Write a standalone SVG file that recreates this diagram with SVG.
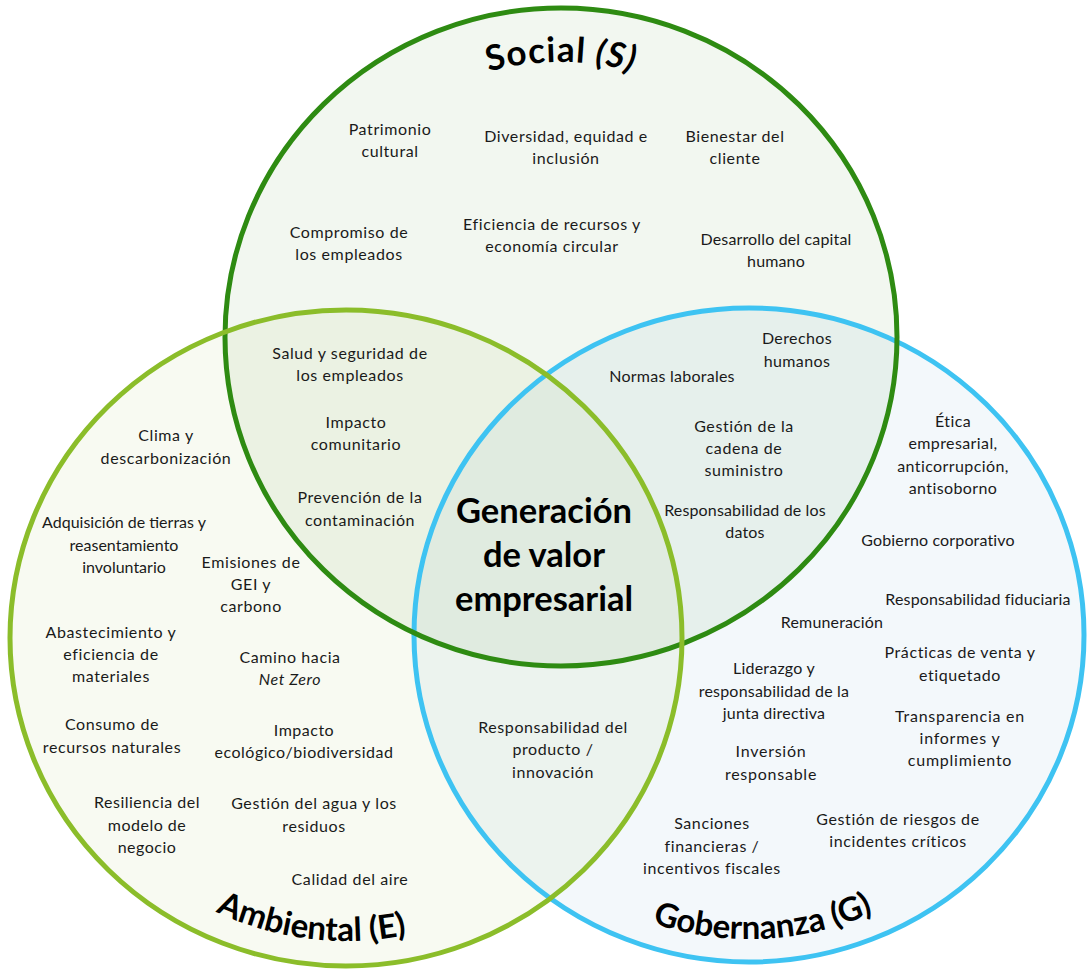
<svg xmlns="http://www.w3.org/2000/svg" width="1089" height="973" viewBox="0 0 1089 973">
<style>
.t{font-family:Lato,"Open Sans","Liberation Sans",sans-serif;font-size:16px;fill:#1a1a1a;text-anchor:middle}
.w{letter-spacing:0.6px}
.n{letter-spacing:0.15px}
.hd{font-family:Lato,"Open Sans","Liberation Sans",sans-serif;font-weight:bold;fill:#000}
.ring{fill:none;stroke-width:5}
</style>
<defs>
<path id="arcS" d="M 384.2 126.3 A 275 275 0 0 1 737.8 126.3"/>
<path id="arcE" d="M 83.6 789.5 A 303 303 0 0 0 608.4 789.5"/>
<path id="arcG" d="M 485.7 787 A 304 304 0 0 0 1012.3 787"/>
</defs>
<rect width="1089" height="973" fill="#fff"/>
<g id="fills">
<ellipse cx="561" cy="337" rx="336" ry="329" fill="#267A05" fill-opacity="0.06"/>
<ellipse cx="346" cy="638" rx="336" ry="328" fill="#8AAC26" fill-opacity="0.06"/>
<ellipse cx="749" cy="635" rx="335" ry="327" fill="#378ABC" fill-opacity="0.06"/>
</g>
<g id="circle-G"><ellipse class="ring" cx="749" cy="635" rx="335" ry="327" stroke="#3EC3F2"/></g>
<g id="circle-S"><ellipse class="ring" cx="561" cy="337" rx="336" ry="329" stroke="#2E8B12"/></g>
<g id="circle-E"><ellipse class="ring" cx="346" cy="638" rx="336" ry="328" stroke="#8BBD2A"/></g>
<g id="titles">
<text class="hd" font-size="35" letter-spacing="1"><textPath href="#arcS" startOffset="50%" text-anchor="middle">Social <tspan font-style="italic">(S)</tspan></textPath></text>
<text class="hd" font-size="33"><textPath href="#arcE" startOffset="44.2%" text-anchor="middle">Ambiental (E)</textPath></text>
<text class="hd" font-size="33"><textPath href="#arcG" startOffset="52.3%" text-anchor="middle">Gobernanza (G)</textPath></text>
</g>
<g id="center">
<text class="hd" font-size="34.5" text-anchor="middle"><tspan x="544" y="523">Generación</tspan><tspan x="544" y="567">de valor</tspan><tspan x="544" y="611">empresarial</tspan></text>
</g>
<g id="social">
<text id="s1" class="t w"><tspan x="390" y="135">Patrimonio</tspan><tspan x="390" y="157">cultural</tspan></text>
<text id="s2" class="t w"><tspan x="566" y="142">Diversidad, equidad e</tspan><tspan x="566" y="164">inclusión</tspan></text>
<text id="s3" class="t w"><tspan x="735" y="142">Bienestar del</tspan><tspan x="735" y="164">cliente</tspan></text>
<text id="s4" class="t w"><tspan x="349" y="238">Compromiso de</tspan><tspan x="349" y="260">los empleados</tspan></text>
<text id="s5" class="t w"><tspan x="552" y="230">Eficiencia de recursos y</tspan><tspan x="552" y="252">economía circular</tspan></text>
<text id="s6" class="t n"><tspan x="776" y="245">Desarrollo del capital</tspan><tspan x="776" y="267">humano</tspan></text>
</g>
<g id="social-ambiental">
<text id="se1" class="t w"><tspan x="350" y="359">Salud y seguridad de</tspan><tspan x="350" y="381">los empleados</tspan></text>
<text id="se2" class="t w"><tspan x="356" y="428">Impacto</tspan><tspan x="356" y="450">comunitario</tspan></text>
<text id="se3" class="t w"><tspan x="360" y="503">Prevención de la</tspan><tspan x="360" y="526">contaminación</tspan></text>
</g>
<g id="social-gobernanza">
<text id="sg1" class="t" letter-spacing="0.4"><tspan x="797" y="344">Derechos</tspan><tspan x="797" y="367">humanos</tspan></text>
<text id="sg2" class="t" letter-spacing="0.25"><tspan x="672" y="382">Normas laborales</tspan></text>
<text id="sg3" class="t w"><tspan x="744" y="432">Gestión de la</tspan><tspan x="744" y="454">cadena de</tspan><tspan x="744" y="476">suministro</tspan></text>
<text id="sg4" class="t n"><tspan x="745" y="516">Responsabilidad de los</tspan><tspan x="745" y="538">datos</tspan></text>
</g>
<g id="ambiental">
<text id="e1" class="t w"><tspan x="166" y="441">Clima y</tspan><tspan x="166" y="464">descarbonización</tspan></text>
<text id="e2" class="t"><tspan x="124" y="528">Adquisición de tierras y</tspan><tspan x="124" y="551">reasentamiento</tspan><tspan x="124" y="573">involuntario</tspan></text>
<text id="e3" class="t w"><tspan x="251" y="568">Emisiones de</tspan><tspan x="251" y="590">GEI y</tspan><tspan x="251" y="612">carbono</tspan></text>
<text id="e4" class="t w"><tspan x="111" y="638">Abastecimiento y</tspan><tspan x="111" y="660">eficiencia de</tspan><tspan x="111" y="682">materiales</tspan></text>
<text id="e5" class="t w"><tspan x="290" y="663">Camino hacia</tspan><tspan x="290" y="685" font-style="italic">Net Zero</tspan></text>
<text id="e6" class="t w"><tspan x="112" y="730">Consumo de</tspan><tspan x="112" y="753">recursos naturales</tspan></text>
<text id="e7" class="t" letter-spacing="0.5"><tspan x="304" y="736">Impacto</tspan><tspan x="304" y="758">ecológico/biodiversidad</tspan></text>
<text id="e8" class="t" letter-spacing="0.5"><tspan x="147" y="808">Resiliencia del</tspan><tspan x="147" y="831">modelo de</tspan><tspan x="147" y="853">negocio</tspan></text>
<text id="e9" class="t w"><tspan x="314" y="809">Gestión del agua y los</tspan><tspan x="314" y="832">residuos</tspan></text>
<text id="e10" class="t w"><tspan x="350" y="885">Calidad del aire</tspan></text>
</g>
<g id="ambiental-gobernanza">
<text id="eg1" class="t w"><tspan x="553" y="733">Responsabilidad del</tspan><tspan x="553" y="755">producto /</tspan><tspan x="553" y="778">innovación</tspan></text>
</g>
<g id="gobernanza">
<text id="g1" class="t" letter-spacing="0.4"><tspan x="953" y="427">Ética</tspan><tspan x="953" y="449">empresarial,</tspan><tspan x="953" y="472">anticorrupción,</tspan><tspan x="953" y="494">antisoborno</tspan></text>
<text id="g2" class="t n"><tspan x="938" y="546">Gobierno corporativo</tspan></text>
<text id="g3" class="t n"><tspan x="978" y="605">Responsabilidad fiduciaria</tspan></text>
<text id="g4" class="t n"><tspan x="832" y="628">Remuneración</tspan></text>
<text id="g5" class="t w"><tspan x="960" y="658">Prácticas de venta y</tspan><tspan x="960" y="681">etiquetado</tspan></text>
<text id="g6" class="t" letter-spacing="0.2"><tspan x="774" y="674">Liderazgo y</tspan><tspan x="774" y="697">responsabilidad de la</tspan><tspan x="774" y="719">junta directiva</tspan></text>
<text id="g7" class="t" letter-spacing="0.75"><tspan x="960" y="722">Transparencia en</tspan><tspan x="960" y="744">informes y</tspan><tspan x="960" y="766">cumplimiento</tspan></text>
<text id="g8" class="t" letter-spacing="0.75"><tspan x="771" y="757">Inversión</tspan><tspan x="771" y="780">responsable</tspan></text>
<text id="g9" class="t w"><tspan x="712" y="829">Sanciones</tspan><tspan x="712" y="852">financieras /</tspan><tspan x="712" y="874">incentivos fiscales</tspan></text>
<text id="g10" class="t w"><tspan x="898" y="825">Gestión de riesgos de</tspan><tspan x="898" y="847">incidentes críticos</tspan></text>
</g>
</svg>
